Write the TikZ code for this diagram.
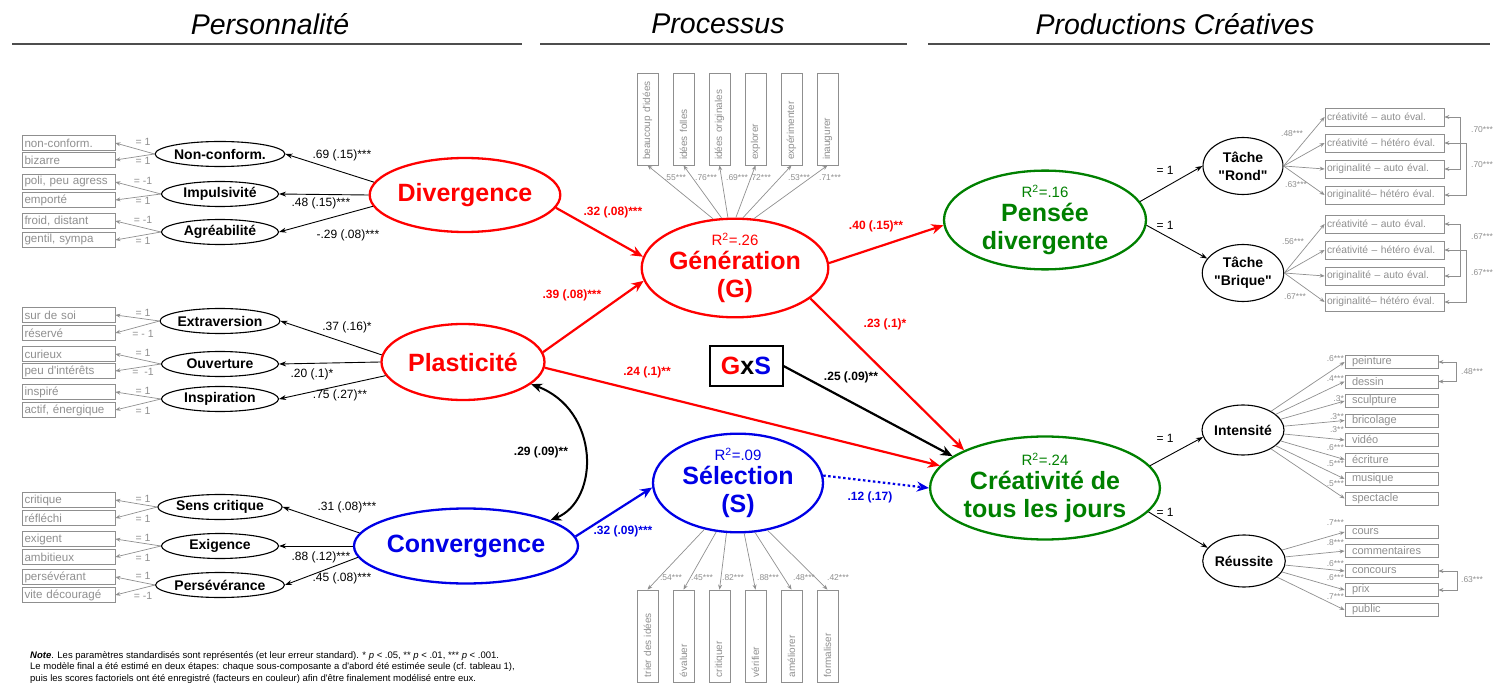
\documentclass[tikz,border=0pt]{standalone}
\usepackage{fontspec}
\setmainfont{Liberation Sans}[Ligatures=TeXOff]
\usetikzlibrary{arrows.meta,shapes.geometric,positioning}
\definecolor{SemRed}{HTML}{FF0000}
\definecolor{SemBlue}{HTML}{0000E6}
\definecolor{SemGreen}{HTML}{008000}
\definecolor{IndGray}{HTML}{8F8F8F}
\definecolor{RuleGray}{HTML}{4D4D4D}
\newcommand{\pxfont}[1]{\fontsize{#1}{#1}\selectfont}

\begin{document}
\begin{tikzpicture}[x=1pt,y=-1pt,
    head/.style={font=\itshape\pxfont{28.5}},
    headrule/.style={RuleGray,line width=1.6pt},
    fac/.style={ellipse,line width=2.3pt,inner sep=0pt,align=center,
      font=\bfseries\fontsize{25}{28}\selectfont},
    facet/.style={ellipse,draw,line width=1.1pt,minimum width=117pt,minimum height=25pt,
      inner sep=0pt,font=\bfseries\pxfont{14}},
    task/.style={ellipse,draw,line width=1.1pt,minimum width=80pt,minimum height=57pt,
      inner sep=0pt,align=center,font=\bfseries\fontsize{14}{18}\selectfont},
    ind/.style={draw=IndGray,text=IndGray,line width=.8pt,minimum height=15pt,
      inner xsep=2.5pt,inner ysep=0pt,text width=88pt,align=left,font=\pxfont{11.6}},
    vitem/.style={draw=IndGray,text=IndGray,line width=.8pt,rotate=90,minimum height=21pt,
      minimum width=92pt,inner xsep=5pt,inner ysep=0pt,text width=82pt,align=left,font=\pxfont{10}},
    ritem/.style={draw=IndGray,text=IndGray,line width=.8pt,minimum height=18pt,
      inner xsep=2pt,inner ysep=0pt,text width=115pt,align=left,font=\pxfont{10.3}},
    kitem/.style={draw=IndGray,text=IndGray,line width=.8pt,minimum height=13pt,
      inner xsep=7pt,inner ysep=0pt,text width=79pt,align=left,font=\pxfont{11}},
    fixlab/.style={IndGray,inner sep=0pt,font=\pxfont{10.5}},
    ldlab/.style={IndGray,inner sep=0pt,font=\pxfont{8.5}},
    coef/.style={inner sep=0pt,font=\pxfont{12}},
    bcoef/.style={inner sep=0pt,font=\bfseries\pxfont{12}},
    loading/.style={IndGray,line width=.7pt,-{Stealth[length=5pt,width=4pt]}},
    corr/.style={IndGray,line width=.7pt,{Stealth[length=5pt,width=4pt]}-{Stealth[length=5pt,width=4pt]}},
    regr/.style={line width=.9pt,-{Stealth[length=7pt,width=5pt]}},
    effect/.style={line width=2.2pt,-{Stealth[length=12pt,width=10pt]}}
  ]
  \useasboundingbox (0,0) rectangle (1500,687);

  % headers
  \node[head] (hpers) at (270,24) {Personnalité};
  \node[head] (hproc) at (718,24) {Processus};
  \node[head] (hprod) at (1175,24) {Productions Créatives};
  \draw[headrule] (12,44) -- (522,44);
  \draw[headrule] (540,44) -- (907,44);
  \draw[headrule] (928,44) -- (1490,44);

  % personality
  \node[fac,draw=SemRed,text=SemRed,minimum width=156pt,minimum height=74pt] (div) at (465,195) {Divergence};
  \node[fac,draw=SemRed,text=SemRed,minimum width=163pt,minimum height=76pt] (plast) at (463,362) {Plasticité};
  \node[fac,draw=SemBlue,text=SemBlue,minimum width=180pt,minimum height=75pt] (conv) at (466,546) {Convergence};

  \foreach \lat/\yy/\txt in {nc/154/Non-conform., imp/194/Impulsivité, agr/232/Agréabilité,
      ext/321/Extraversion, ouv/364/Ouverture, insp/399/Inspiration,
      sc/507/Sens critique, exi/546/Exigence, pers/585/Persévérance}
    \node[facet] (\lat) at (220,\yy) {\txt};

  \foreach \m/\lat/\yy/\txt/\fx/\fy in {1/nc/143/non-conform./= 1/142, 2/nc/160/bizarre/= 1/161,
      3/imp/182/{poli, peu agress}/= -1/181, 4/imp/200/emporté/= 1/201,
      5/agr/221/{froid, distant}/= -1/220, 6/agr/240/{gentil, sympa}/= 1/241,
      7/ext/315/sur de soi/= 1/313, 8/ext/333/réservé/= - 1/334,
      9/ouv/354/curieux/= 1/353, 10/ouv/371/peu d'intérêts/{= ~-1}/372,
      11/insp/392/inspiré/= 1/391, 12/insp/410/{actif, énergique}/= 1/411,
      13/sc/500/critique/= 1/499, 14/sc/518/réfléchi/= 1/519,
      15/exi/539/exigent/= 1/538, 16/exi/557/ambitieux/= 1/558,
      17/pers/577/persévérant/= 1/576, 18/pers/595/vite découragé/= -1/596}
  {
    \node[ind] (p\m) at (68.5,\yy) {\txt};
    \draw[loading] (\lat.west) -- (p\m.east);
    \node[fixlab] (q\m) at (143,\fy) {\fx};
  }

  \foreach \src/\ang/\dst/\lx/\ly/\cf in {div/172/nc/342/155/{.69 (.15)***},
      div/180/imp/321/203/{.48 (.15)***}, div/187/agr/348/235/{-.29 (.08)***},
      plast/175/ext/347/327/{.37 (.16)*}, plast/180/ouv/312/374/{.20 (.1)*},
      plast/190/insp/340/395/{.75 (.27)**}, conv/173/sc/347/507/{.31 (.08)***},
      conv/180/exi/321/557/{.88 (.12)***}, conv/186/pers/342/578/{.45 (.08)***}}
  {
    \draw[regr] (\src.\ang) -- (\dst.east);
    \node[coef] (c\dst) at (\lx,\ly) {\cf};
  }

  % process
  \node[fac,draw=SemRed,text=SemRed,minimum width=175pt,minimum height=87pt] (gen) at (735,268)
    {{\mdseries\pxfont{15}R\textsuperscript{2}=.26}\\[-4pt]Génération\\(G)};
  \node[fac,draw=SemBlue,text=SemBlue,minimum width=170pt,minimum height=88pt] (sel) at (738,483)
    {{\mdseries\pxfont{15}R\textsuperscript{2}=.09}\\[-4pt]Sélection\\(S)};
  \node[draw,line width=2pt,minimum width=73pt,minimum height=40pt,inner sep=0pt,
    font=\bfseries\pxfont{25}] (gxs) at (746,366) {\textcolor{SemRed}{G}x\textcolor{SemBlue}{S}};

  \foreach \m/\xx/\txt/\ang/\lx/\ld in {1/647.5/beaucoup d'idées/114/675/.55***,
      2/683.5/idées folles/105/706/.76***, 3/719.5/idées originales/98/737/.69***,
      4/755.5/explorer/89/760/.72***, 5/791.5/expérimenter/81/799/.53***,
      6/827.5/inaugurer/69/830/.71***}
  {
    \node[vitem] (g\m) at (\xx,119) {\txt};
    \draw[loading] (gen.\ang) -- (g\m.west);
    \node[ldlab] (gl\m) at (\lx,178) {\ld};
  }
  \foreach \m/\xx/\txt/\ang/\lx/\ld in {1/647.5/trier des idées/234/671/.54***,
      2/683.5/évaluer/246/702/.45***, 3/719.5/critiquer/257/733/.82***,
      4/755.5/vérifier/277/768/.88***, 5/791.5/améliorer/289/804/.48***,
      6/827.5/formaliser/302/838/.42***}
  {
    \node[vitem] (s\m) at (\xx,636) {\txt};
    \draw[loading] (sel.\ang) -- (s\m.east);
    \node[ldlab] (sl\m) at (\lx,578) {\ld};
  }

  % productions
  \node[fac,draw=SemGreen,text=SemGreen,minimum width=202pt,minimum height=92pt] (pens) at (1045,220)
    {{\mdseries\pxfont{15}R\textsuperscript{2}=.16}\\[-4pt]Pensée\\divergente};
  \node[fac,draw=SemGreen,text=SemGreen,minimum width=226pt,minimum height=103pt] (cdj) at (1045,488)
    {{\mdseries\pxfont{15}R\textsuperscript{2}=.24}\\[-4pt]Créativité de\\tous les jours};

  % structural paths
  \draw[effect,SemRed] (div.-8) -- (gen.173);
  \node[bcoef,text=SemRed] (e1) at (613,212) {.32 (.08)***};
  \draw[effect,SemRed] (plast.7) -- (gen.188);
  \node[bcoef,text=SemRed] (e2) at (572,295) {.39 (.08)***};
  \draw[effect,SemRed] (gen.3) -- (pens.183);
  \node[bcoef,text=SemRed] (e3) at (876,226) {.40 (.15)**};
  \draw[effect,SemRed] (gen.-22) -- (cdj.155);
  \node[bcoef,text=SemRed] (e4) at (885,324) {.23 (.1)*};
  \draw[effect,SemRed] (plast.-4) -- (cdj.168);
  \node[bcoef,text=SemRed] (e5) at (647,372) {.24 (.1)**};
  \draw[effect] (gxs.east) -- (cdj.161);
  \node[bcoef] (e6) at (851,377) {.25 (.09)**};
  \draw[effect,SemBlue] (conv.5) -- (sel.183);
  \node[bcoef,text=SemBlue] (e7) at (623,531) {.32 (.09)***};
  \draw[effect,SemBlue,dash pattern=on 2.5pt off 2.5pt] (sel.5) -- (cdj.180);
  \node[bcoef,text=SemBlue] (e8) at (870,497) {.12 (.17)};
  \draw[line width=2pt,{Stealth[length=11pt,width=9pt]}-{Stealth[length=11pt,width=9pt]}]
    (plast.-18) .. controls (600,410) and (600,500) .. (conv.17);
  \node[bcoef] (e9) at (541,452) {.29 (.09)**};

  % measurement of outcomes
  \node[task] (rond) at (1243,166) {Tâche\\"Rond"};
  \node[task] (briq) at (1243,273) {Tâche\\"Brique"};
  \node[task,minimum width=82pt,minimum height=50pt] (intens) at (1243,430) {Intensité};
  \node[task,minimum width=82pt,minimum height=52pt] (reus) at (1244,561) {Réussite};

  \draw[regr] (pens.11) -- (rond.west);
  \node[coef] (z1) at (1165,170) {= 1};
  \draw[regr] (pens.-3) -- (briq.158);
  \node[coef] (z2) at (1165,225) {= 1};
  \draw[regr] (cdj.12) -- (intens.190);
  \node[coef] (z3) at (1165,438) {= 1};
  \draw[regr] (cdj.-13) -- (reus.160);
  \node[coef] (z4) at (1165,512) {= 1};

  \foreach \m/\yy/\txt in {1/117/créativité – auto éval., 2/143/créativité – hétéro éval.,
      3/169/originalité – auto éval., 4/195/originalité– hétéro éval.}
  {
    \node[ritem] (r\m) at (1384.5,\yy) {\txt};
    \draw[loading] (rond.east) -- (r\m.west);
  }
  \foreach \m/\yy/\txt in {1/224/créativité – auto éval., 2/250/créativité – hétéro éval.,
      3/276/originalité – auto éval., 4/302/originalité– hétéro éval.}
  {
    \node[ritem] (b\m) at (1384.5,\yy) {\txt};
    \draw[loading] (briq.east) -- (b\m.west);
  }
  \node[ldlab] (rl1) at (1292,134) {.48***};
  \node[ldlab] (rl2) at (1296,185) {.63***};
  \node[ldlab] (bl1) at (1293,242) {.56***};
  \node[ldlab] (bl2) at (1295,297) {.67***};
  \draw[corr] (r1.east) -- ++(16,0) |- (r3.east);
  \draw[corr] (r2.east) -- ++(22,0) |- (r4.east);
  \node[ldlab] (rc1) at (1482,130) {.70***};
  \node[ldlab] (rc2) at (1482,165) {.70***};
  \draw[corr] (b1.east) -- ++(16,0) |- (b3.east);
  \draw[corr] (b2.east) -- ++(22,0) |- (b4.east);
  \node[ldlab] (bc1) at (1482,237) {.67***};
  \node[ldlab] (bc2) at (1482,273) {.67***};

  \foreach \m/\yy/\txt/\ly/\ld in {1/362/peinture/359/.6***, 2/381.5/dessin/379/.4***,
      3/401/sculpture/399/.3*, 4/420.5/bricolage/417/.3**, 5/440/vidéo/430/.3**,
      6/459.5/écriture/448/.6***, 7/479/musique/464/.5***, 8/498.5/spectacle/484/.5***}
  {
    \node[kitem] (k\m) at (1391.5,\yy) {\txt};
    \draw[loading] (intens) -- (k\m.west);
    \node[ldlab,anchor=east] (kl\m) at (1344,\ly) {\ld};
  }
  \draw[corr] (k1.east) -- ++(18,0) |- (k2.east);
  \node[ldlab] (kc) at (1472,372) {.48***};

  \foreach \m/\yy/\txt/\ly/\ld in {1/532/cours/523/.7***, 2/551/commentaires/543/.8***,
      3/571/concours/564/.6***, 4/590/prix/578/.6***, 5/610/public/597/.7***}
  {
    \node[kitem] (u\m) at (1391.5,\yy) {\txt};
    \draw[loading] (reus) -- (u\m.west);
    \node[ldlab,anchor=east] (ul\m) at (1344,\ly) {\ld};
  }
  \draw[corr] (u3.east) -- ++(19,0) |- (u4.east);
  \node[ldlab] (uc) at (1472,580) {.63***};

  % note
  \node[anchor=north west,inner sep=0pt,align=left,font=\fontsize{9.5}{11.5}\selectfont] (note) at (30,651)
    {\textbf{\textit{Note}}. Les paramètres standardisés sont représentés (et leur erreur standard). * \textit{p} < .05, ** \textit{p} < .01, *** \textit{p} < .001.\\
     Le modèle final a été estimé en deux étapes: chaque sous-composante a d'abord été estimée seule (cf. tableau 1),\\
     puis les scores factoriels ont été enregistré (facteurs en couleur) afin d'être finalement modélisé entre eux.};
\end{tikzpicture}
\end{document}
